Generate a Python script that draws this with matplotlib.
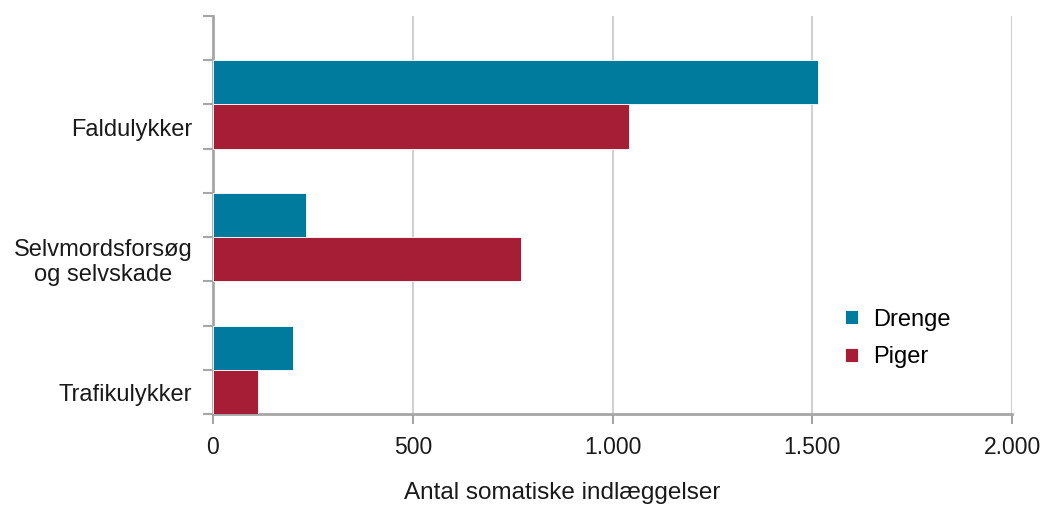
import numpy as np
import matplotlib.pyplot as plt

plt.rcParams['font.family'] = ['Liberation Sans', 'DejaVu Sans']

categories = ['Trafikulykker', 'Selvmordsforsøg\nog selvskade', 'Faldulykker']
drenge = [200, 233, 1515]
piger = [113, 771, 1041]

TEAL = '#007B9E'
RED = '#A61E36'
GREY = '#A6A6A6'


def main():
    fig = plt.figure(figsize=(10.43, 5.07), dpi=100)
    ax = fig.add_axes([0.2042, 0.1834, 0.7661, 0.785])
    y = np.arange(len(categories))
    h = 1 / 3
    ax.barh(y + h / 2, drenge, height=h, color=TEAL, edgecolor='white',
            linewidth=0.6, label='Drenge', zorder=3)
    ax.barh(y - h / 2, piger, height=h, color=RED, edgecolor='white',
            linewidth=0.6, label='Piger', zorder=3)

    ax.set_xlim(0, 2000)
    ax.set_ylim(-h, 2 + 2 * h)
    ax.set_xticks([0, 500, 1000, 1500, 2000])
    ax.set_xticklabels(['0', '500', '1.000', '1.500', '2.000'])
    ax.set_yticks(np.arange(-h, 2 + 2 * h + 0.01, h))
    ax.set_yticklabels([])
    ax.grid(axis='x', color='#D0D0D0', linewidth=1.5, zorder=0)

    for side in ['top', 'right']:
        ax.spines[side].set_visible(False)
    for side in ['left', 'bottom']:
        ax.spines[side].set_color(GREY)
        ax.spines[side].set_linewidth(2)
    ax.tick_params(axis='both', color=GREY, width=1.5, length=7,
                   labelsize=16.5, labelcolor='#1A1A1A')
    ax.tick_params(axis='x', pad=9)

    for yi, name in zip(y, categories):
        ax.text(-0.026, yi - 0.19, name, transform=ax.get_yaxis_transform(),
                ha='right', va='center', fontsize=17, color='#1A1A1A',
                linespacing=1.2, multialignment='center')

    ax.set_xlabel('Antal somatiske indlæggelser', fontsize=17.5,
                  color='#1A1A1A', va='center')
    ax.xaxis.set_label_coords(0.437, -0.198)

    ax.legend(loc='center left', bbox_to_anchor=(0.765, 0.19), frameon=False,
              fontsize=17, handlelength=0.55, handleheight=0.55,
              handletextpad=0.6, labelspacing=0.65)

    fig.savefig('out.png', dpi=100)


if __name__ == '__main__':
    main()
